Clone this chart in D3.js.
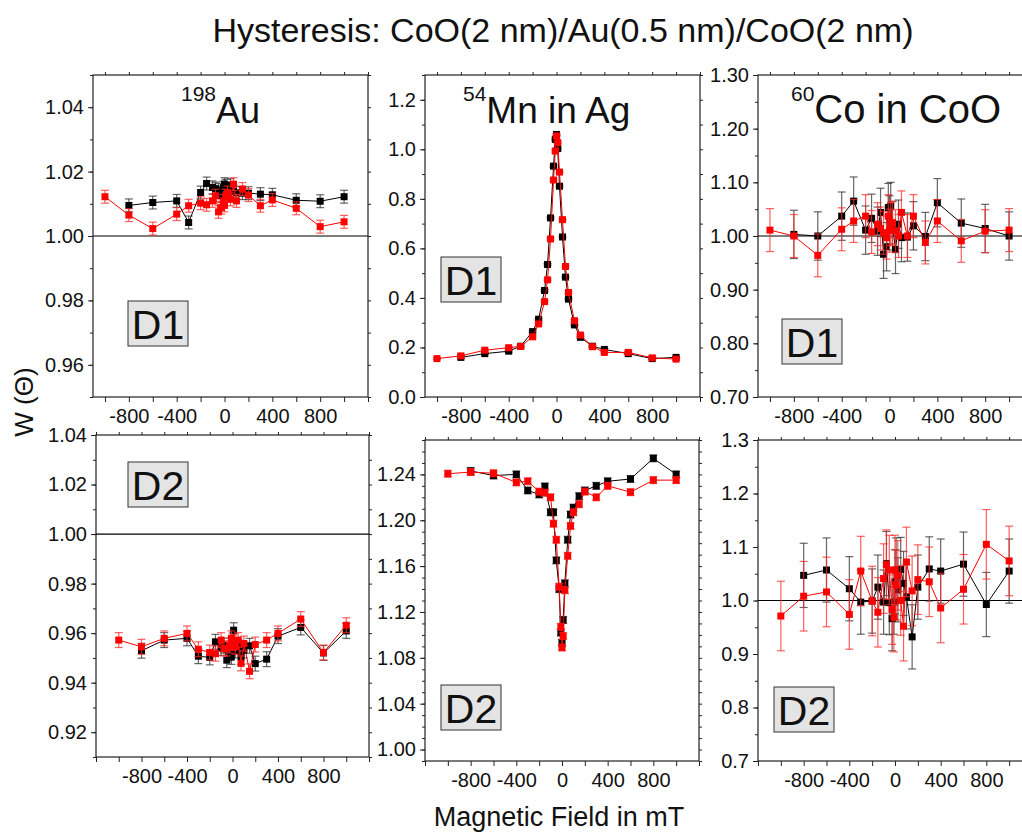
<!DOCTYPE html>
<html lang="en">
<head>
<meta charset="utf-8">
<title>Hysteresis</title>
<script src="https://cdnjs.cloudflare.com/ajax/libs/d3/7.8.5/d3.min.js"></script>
<style>
    body { margin: 0; background: #fff; }
    text { font-family: "Liberation Sans", Arial, sans-serif; fill: #111; }
</style>
</head>
<body>
<div id="chart"></div>
<script>
// magnetic field steps (mT), shared by every panel
var field = [-1000, -800, -600, -400, -300, -200, -150, -100, -75, -50, -25, -10, 0, 10, 25, 50, 75, 100, 150, 200, 300, 400, 600, 800, 1000];

// 198Au
var auD1Black = [null, 1.0095, 1.0104, 1.0109, 1.0042, 1.0135, 1.0163, 1.0151, 1.0147, 1.0143, 1.0125, 1.0150, 1.0161, 1.0156, 1.0147, 1.0158, 1.0138, 1.0134, 1.0133, 1.0133, 1.0130, 1.0128, 1.0111, 1.0108, 1.0122];
var auD1Red   = [1.0122, 1.0065, 1.0023, 1.0068, 1.0094, 1.0102, 1.0097, 1.0109, 1.0125, 1.0075, 1.0088, 1.0109, 1.0095, 1.0125, 1.0135, 1.0114, 1.0161, 1.0109, 1.0146, 1.0127, 1.0094, 1.0112, 1.0086, 1.0029, 1.0044];
var auD2Black = [null, 0.9529, 0.9572, 0.9579, 0.9507, 0.9502, 0.9565, 0.9540, 0.9550, 0.9491, 0.9520, 0.9504, 0.9570, 0.9612, 0.9530, 0.9545, 0.9504, 0.9530, 0.9549, 0.9477, 0.9495, 0.9588, 0.9623, 0.9520, 0.9609];
var auD2Red   = [0.9572, 0.9545, 0.9579, 0.9599, 0.9535, 0.9522, 0.9517, 0.9572, 0.9538, 0.9538, 0.9550, 0.9579, 0.9560, 0.9565, 0.9545, 0.9572, 0.9478, 0.9558, 0.9446, 0.9554, 0.9572, 0.9599, 0.9657, 0.9522, 0.9632];

// 54Mn in Ag
var mnD1Black = [null, 0.160, 0.175, 0.185, 0.205, 0.264, 0.314, 0.430, 0.535, 0.723, 0.932, 1.040, 1.060, 1.003, 0.851, 0.646, 0.484, 0.395, 0.291, 0.241, 0.205, 0.192, 0.175, 0.155, 0.160];
var mnD1Red   = [0.155, 0.166, 0.189, 0.199, 0.204, 0.243, 0.295, 0.385, 0.473, 0.638, 0.876, 0.993, 1.054, 1.027, 0.908, 0.716, 0.527, 0.422, 0.308, 0.250, 0.203, 0.180, 0.180, 0.158, 0.153];
var mnD2Black = [null, 1.243, 1.239, 1.240, 1.226, 1.2225, 1.2295, 1.207, 1.207, 1.165, 1.140, 1.102, 1.093, 1.113, 1.145, 1.183, 1.205, 1.211, 1.221, 1.226, 1.230, 1.234, 1.236, 1.254, 1.240];
var mnD2Red   = [1.2406, 1.242, 1.241, 1.233, 1.234, 1.225, 1.224, 1.220, 1.197, 1.183, 1.142, 1.107, 1.089, 1.099, 1.139, 1.169, 1.195, 1.207, 1.214, 1.225, 1.220, 1.230, 1.2245, 1.235, 1.235];

// 60Co in CoO
var coD1Black = [null, 1.003, 1.000, 1.037, 1.065, 1.011, 1.033, 1.009, 1.044, 0.966, 0.980, 1.053, 1.030, 1.055, 1.019, 0.975, 1.022, 0.997, 0.998, 1.019, 0.999, 1.062, 1.024, 1.014, 1.000];
var coD1Red   = [1.011, 1.000, 0.964, 1.0125, 1.028, 1.037, 1.0075, 1.022, 1.014, 1.006, 0.997, 1.037, 1.010, 1.022, 1.025, 1.009, 1.000, 1.044, 1.000, 1.037, 0.988, 1.028, 0.991, 1.009, 1.011];
var coD2Black = [null, 1.047, 1.057, 1.022, 0.997, 0.999, 1.025, 0.997, 1.069, 0.996, 0.966, 0.997, 1.035, 1.057, 1.020, 1.058, 1.032, 1.007, 0.932, 1.025, 1.059, 1.055, 1.068, 0.9925, 1.055];
var coD2Red   = [0.971, 1.008, 1.016, 0.974, 1.055, 0.999, 0.978, 1.041, 1.067, 1.057, 0.983, 0.969, 1.057, 1.029, 1.047, 1.000, 0.952, 1.072, 1.018, 1.039, 1.035, 0.986, 1.021, 1.105, 1.074];

// error bar half widths per series [black, red]
var errAuD1 = [0.002, 0.002];
var errAuD2 = [0.003, 0.003];
var errMnD1 = [0.004, 0.004];
var errMnD2 = [0.003, 0.003];
var errCoD1 = [0.045, 0.04];
var errCoD2 = [0.06, 0.065];

var xLabels = [-800, -400, 0, 400, 800];

var width = 1022, height = 832;
var svg = d3.select("#chart").append("svg")
    .attr("width", width)
    .attr("height", height);

var panels = [
    {x: 93, y: 75, w: 275, h: 322, xd: [-1100, 1200], yd: [0.95, 1.05], major: 0.02, minor: 0.01, fmt: ".2f",
     sup: "198", name: "Au", nameSize: 36, labX: 88, tag: "D1", tagX: 35, tagY: 226, one: true,
     black: auD1Black, red: auD1Red, err: errAuD1},
    {x: 425, y: 75, w: 275, h: 322, xd: [-1100, 1200], yd: [0, 1.3], major: 0.2, minor: 0.1, fmt: ".1f",
     sup: "54", name: "Mn in Ag", nameSize: 37, labX: 38, tag: "D1", tagX: 16, tagY: 182, one: false,
     black: mnD1Black, red: mnD1Red, err: errMnD1},
    {x: 758, y: 75, w: 275, h: 322, xd: [-1100, 1200], yd: [0.7, 1.3], major: 0.1, minor: 0.05, fmt: ".2f",
     sup: "60", name: "Co in CoO", nameSize: 40, labX: 33, tag: "D1", tagX: 24, tagY: 244, one: true,
     black: coD1Black, red: coD1Red, err: errCoD1},
    {x: 96, y: 435, w: 273, h: 322, xd: [-1200, 1200], yd: [0.91, 1.04], major: 0.02, minor: 0.01, fmt: ".2f",
     tag: "D2", tagX: 32, tagY: 27, one: true,
     black: auD2Black, red: auD2Red, err: errAuD2},
    {x: 425, y: 440, w: 274, h: 321, xd: [-1200, 1200], yd: [0.99, 1.27], major: 0.04, minor: 0.01, fmt: ".2f",
     tag: "D2", tagX: 16, tagY: 245, one: false,
     black: mnD2Black, red: mnD2Red, err: errMnD2},
    {x: 758, y: 440, w: 274, h: 321, xd: [-1200, 1200], yd: [0.7, 1.3], major: 0.1, minor: 0.05, fmt: ".1f",
     tag: "D2", tagX: 16, tagY: 247, one: true,
     black: coD2Black, red: coD2Red, err: errCoD2}
];

function ticksFrom(lo, hi, step) {
    var out = [];
    var start = Math.ceil(lo / step - 1e-6);
    for (var k = start; k * step <= hi + 1e-9; k++) out.push(+(k * step).toFixed(4));
    return out;
}

panels.forEach(function(p) {
    var g = svg.append("g").attr("transform", "translate(" + p.x + "," + p.y + ")");
    var x = d3.scaleLinear().domain(p.xd).range([0, p.w]);
    var y = d3.scaleLinear().domain(p.yd).range([p.h, 0]);

    var yMajor = ticksFrom(p.yd[0], p.yd[1], p.major);
    var yMinor = ticksFrom(p.yd[0], p.yd[1], p.minor);
    var xTicks = d3.range(p.xd[0] - (p.xd[0] % 200), p.xd[1] + 1, 200);
    var fmt = d3.format(p.fmt);

    // axes on all four sides
    g.append("g").attr("class", "axis")
        .call(d3.axisLeft(y).tickValues(yMinor).tickSize(3).tickFormat(""));
    g.append("g").attr("class", "axis")
        .call(d3.axisLeft(y).tickValues(yMajor).tickSize(5).tickPadding(4).tickFormat(fmt));
    g.append("g").attr("class", "axis").attr("transform", "translate(" + p.w + ",0)")
        .call(d3.axisRight(y).tickValues(yMinor).tickSize(3).tickFormat(""));
    g.append("g").attr("class", "axis").attr("transform", "translate(0," + p.h + ")")
        .call(d3.axisBottom(x).tickValues(xTicks).tickSize(5).tickPadding(7)
            .tickFormat(function(d) { return xLabels.indexOf(d) >= 0 ? d : ""; }));
    g.append("g").attr("class", "axis")
        .call(d3.axisTop(x).tickValues(xTicks).tickSize(3).tickFormat(""));

    g.selectAll(".axis path").remove();
    g.selectAll(".axis line").attr("stroke", "#222");
    g.selectAll(".axis text").attr("font-size", 20).attr("fill", "#111")
        .attr("font-family", "Liberation Sans, Arial, sans-serif");

    g.append("rect")
        .attr("width", p.w).attr("height", p.h)
        .attr("fill", "none").attr("stroke", "#222").attr("stroke-width", 1.2);

    if (p.one) {
        g.append("line")
            .attr("x1", 0).attr("x2", p.w)
            .attr("y1", y(1)).attr("y2", y(1))
            .attr("stroke", "#000").attr("stroke-width", 1.2);
    }

    // black then red on top
    [{vals: p.black, color: "#000", bar: "#333", e: p.err[0]},
     {vals: p.red, color: "#ff0000", bar: "#ff2a2a", e: p.err[1]}].forEach(function(s) {
        var pts = field.map(function(f, i) { return {f: f, v: s.vals[i]}; })
            .filter(function(d) { return d.v != null; });

        g.append("path").datum(pts)
            .attr("fill", "none").attr("stroke", s.color).attr("stroke-width", 1)
            .attr("d", d3.line().x(function(d) { return x(d.f); }).y(function(d) { return y(d.v); }));

        var eb = g.append("g").attr("stroke", s.bar).attr("stroke-opacity", 0.75).attr("stroke-width", 1.2);
        eb.selectAll("line.v").data(pts).enter().append("line")
            .attr("x1", function(d) { return x(d.f); }).attr("x2", function(d) { return x(d.f); })
            .attr("y1", function(d) { return y(d.v - s.e); }).attr("y2", function(d) { return y(d.v + s.e); });
        [-1, 1].forEach(function(sign) {
            eb.selectAll(null).data(pts).enter().append("line")
                .attr("x1", function(d) { return x(d.f) - 4; }).attr("x2", function(d) { return x(d.f) + 4; })
                .attr("y1", function(d) { return y(d.v + sign * s.e); })
                .attr("y2", function(d) { return y(d.v + sign * s.e); });
        });

        g.selectAll(null).data(pts).enter().append("rect")
            .attr("x", function(d) { return x(d.f) - 3.5; })
            .attr("y", function(d) { return y(d.v) - 3.5; })
            .attr("width", 7).attr("height", 7)
            .attr("fill", s.color);
    });

    // isotope label
    if (p.name) {
        var t = g.append("text").attr("x", p.labX).attr("y", 48);
        t.append("tspan").attr("font-size", 21).attr("dy", -22).text(p.sup);
        t.append("tspan").attr("font-size", p.nameSize).attr("dy", 22).text(p.name);
    }

    // detector tag
    var tg = g.append("g").attr("transform", "translate(" + p.tagX + "," + p.tagY + ")");
    tg.append("rect").attr("width", 60).attr("height", 45)
        .attr("fill", "#e4e4e4").attr("stroke", "#333").attr("stroke-width", 1);
    tg.append("text").attr("x", 30).attr("y", 38).attr("text-anchor", "middle")
        .attr("font-size", 41).text(p.tag);
});

svg.append("text")
    .attr("x", 563).attr("y", 42)
    .attr("text-anchor", "middle")
    .attr("font-size", 34)
    .text("Hysteresis: CoO(2 nm)/Au(0.5 nm)/CoO(2 nm)");

svg.append("text")
    .attr("x", 559).attr("y", 826)
    .attr("text-anchor", "middle")
    .attr("font-size", 27)
    .text("Magnetic Field in mT");

svg.append("text")
    .attr("transform", "translate(33,402) rotate(-90)")
    .attr("text-anchor", "middle")
    .attr("font-size", 26)
    .text("W (Θ)");
</script>
</body>
</html>
